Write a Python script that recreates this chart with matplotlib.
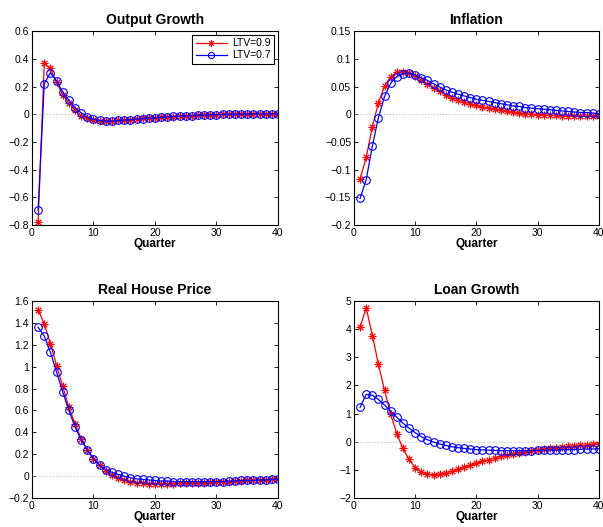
import numpy as np
import matplotlib
matplotlib.use("Agg")
import matplotlib.pyplot as plt

plt.rcParams["font.family"] = ["Liberation Sans", "DejaVu Sans"]

quarters = np.arange(1, 41)

# Output Growth
output_09 = [-0.78, 0.37, 0.33, 0.23, 0.14, 0.08, 0.03, -0.01, -0.03, -0.04,
             -0.05, -0.05, -0.05, -0.045, -0.04, -0.04, -0.035, -0.03, -0.03, -0.025,
             -0.022, -0.02, -0.017, -0.015, -0.012, -0.01, -0.008, -0.006, -0.005, -0.003,
             -0.002, -0.001, 0.0, 0.001, 0.002, 0.003, 0.003, 0.004, 0.004, 0.005]
output_07 = [-0.69, 0.22, 0.30, 0.24, 0.16, 0.10, 0.045, 0.01, -0.02, -0.035,
             -0.045, -0.05, -0.05, -0.045, -0.042, -0.04, -0.035, -0.032, -0.028, -0.025,
             -0.022, -0.019, -0.016, -0.014, -0.012, -0.01, -0.008, -0.006, -0.004, -0.003,
             -0.002, -0.001, 0.0, 0.001, 0.002, 0.003, 0.003, 0.004, 0.004, 0.005]

# Inflation
infl_09 = [-0.117, -0.078, -0.023, 0.021, 0.051, 0.068, 0.076, 0.077, 0.074, 0.069,
           0.062, 0.054, 0.047, 0.041, 0.035, 0.030, 0.026, 0.022, 0.019, 0.016,
           0.013, 0.011, 0.009, 0.007, 0.005, 0.004, 0.002, 0.001, 0.0, -0.001,
           -0.001, -0.002, -0.002, -0.003, -0.003, -0.003, -0.004, -0.004, -0.004, -0.004]
infl_07 = [-0.152, -0.118, -0.058, -0.006, 0.032, 0.056, 0.068, 0.073, 0.074, 0.071,
           0.066, 0.061, 0.055, 0.049, 0.044, 0.040, 0.036, 0.033, 0.030, 0.027,
           0.025, 0.023, 0.021, 0.019, 0.017, 0.015, 0.014, 0.012, 0.011, 0.010,
           0.009, 0.008, 0.007, 0.006, 0.005, 0.004, 0.003, 0.003, 0.002, 0.001]

# Real House Price
house_09 = [1.52, 1.39, 1.21, 1.01, 0.82, 0.63, 0.48, 0.34, 0.24, 0.16,
            0.10, 0.05, 0.01, -0.02, -0.04, -0.05, -0.06, -0.065, -0.07, -0.07,
            -0.07, -0.07, -0.07, -0.065, -0.065, -0.06, -0.06, -0.06, -0.055, -0.055,
            -0.05, -0.05, -0.045, -0.045, -0.04, -0.04, -0.035, -0.035, -0.03, -0.03]
house_07 = [1.36, 1.28, 1.13, 0.95, 0.77, 0.60, 0.45, 0.33, 0.24, 0.16,
            0.10, 0.06, 0.035, 0.015, 0.0, -0.015, -0.025, -0.03, -0.035, -0.04,
            -0.045, -0.045, -0.05, -0.05, -0.05, -0.05, -0.05, -0.05, -0.05, -0.05,
            -0.05, -0.045, -0.045, -0.04, -0.04, -0.04, -0.035, -0.035, -0.03, -0.03]

# Loan Growth
loan_09 = [4.07, 4.75, 3.77, 2.75, 1.82, 0.97, 0.29, -0.24, -0.63, -0.92,
           -1.08, -1.15, -1.17, -1.16, -1.11, -1.05, -0.98, -0.91, -0.84, -0.77,
           -0.70, -0.64, -0.58, -0.52, -0.47, -0.43, -0.39, -0.35, -0.32, -0.29,
           -0.26, -0.24, -0.21, -0.19, -0.17, -0.15, -0.13, -0.11, -0.09, -0.07]
loan_07 = [1.22, 1.68, 1.65, 1.50, 1.30, 1.08, 0.87, 0.66, 0.48, 0.32,
           0.18, 0.07, -0.01, -0.08, -0.13, -0.18, -0.21, -0.24, -0.26, -0.28,
           -0.29, -0.30, -0.31, -0.32, -0.32, -0.32, -0.32, -0.32, -0.32, -0.31,
           -0.31, -0.30, -0.30, -0.29, -0.28, -0.28, -0.27, -0.26, -0.26, -0.25]

titles = ["Output Growth", "Inflation", "Real House Price", "Loan Growth"]
series = [(output_09, output_07), (infl_09, infl_07), (house_09, house_07), (loan_09, loan_07)]
ylims = [(-0.8, 0.6), (-0.2, 0.15), (-0.2, 1.6), (-2, 5)]
yticks = [np.arange(-0.8, 0.61, 0.2), np.arange(-0.2, 0.151, 0.05),
          np.arange(-0.2, 1.61, 0.2), np.arange(-2, 5.1, 1)]
ylabels = [["\u22120.8", "\u22120.6", "\u22120.4", "\u22120.2", "0", "0.2", "0.4", "0.6"],
           ["\u22120.2", "\u22120.15", "\u22120.1", "\u22120.05", "0", "0.05", "0.1", "0.15"],
           ["\u22120.2", "0", "0.2", "0.4", "0.6", "0.8", "1", "1.2", "1.4", "1.6"],
           ["\u22122", "\u22121", "0", "1", "2", "3", "4", "5"]]

# axes positions in figure fractions [left, bottom, width, height]
positions = [[0.053, 0.573, 0.408, 0.368], [0.587, 0.573, 0.406, 0.368],
             [0.053, 0.055, 0.408, 0.374], [0.587, 0.055, 0.406, 0.374]]

asterisk = (8, 2, 0)

fig = plt.figure(figsize=(6.03, 5.27), dpi=100)

for i in range(4):
    ax = fig.add_axes(positions[i])
    s09, s07 = series[i]
    ax.plot([0, 40], [0, 0], color="#c0c0c0", linestyle=":", linewidth=0.8)
    ax.plot(quarters, s09, color="red", marker=asterisk, markersize=5.5, linewidth=0.9,
            markeredgewidth=0.7, label="LTV=0.9")
    ax.plot(quarters, s07, color="blue", marker="o", markersize=5.5, linewidth=0.9,
            markerfacecolor="none", markeredgewidth=0.8, label="LTV=0.7")
    ax.set_xlim(0, 40)
    ax.set_ylim(ylims[i])
    ax.set_xticks([0, 10, 20, 30, 40])
    ax.set_yticks(yticks[i])
    ax.set_yticklabels(ylabels[i])
    ax.tick_params(direction="in", top=True, right=True, labelsize=7.5, length=3,
                   width=0.6, pad=2)
    for sp in ax.spines.values():
        sp.set_linewidth(0.8)
    ax.set_title(titles[i], fontsize=10, fontweight="bold", pad=5)
    ax.set_xlabel("Quarter", fontsize=8.5, fontweight="bold", labelpad=0)
    if i == 0:
        leg = ax.legend(loc="upper right", fontsize=7.5, fancybox=False, framealpha=1,
                        edgecolor="black", borderpad=0.3, labelspacing=0.2,
                        handlelength=3.0, handletextpad=0.5, borderaxespad=0.4,
                        markerscale=0.8)
        leg.get_frame().set_linewidth(0.8)

plt.savefig("out.png", dpi=100)
